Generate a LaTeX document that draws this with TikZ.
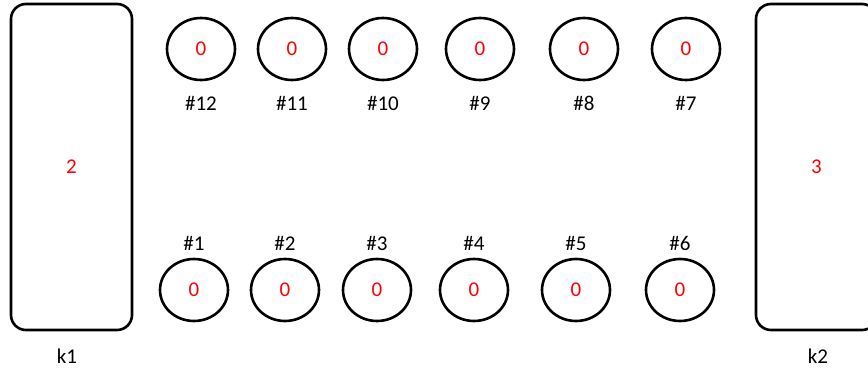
\documentclass[tikz,border=0pt]{standalone}
\usepackage{fontspec}
\setmainfont{Carlito}
\usetikzlibrary{shapes.geometric, positioning}

\begin{document}
\begin{tikzpicture}[x=0.5pt, y=-0.5pt, font=\fontsize{10.5}{12}\selectfont,
  bin/.style={draw, line width=1.3pt, rounded corners=7.5pt, minimum width=60.5pt,
    minimum height=163pt, inner sep=0pt, text=red},
  pit/.style={draw, ellipse, line width=1.3pt, minimum width=34pt,
    minimum height=31pt, inner sep=0pt, text=red},
  tag/.style={inner sep=0pt}]
\useasboundingbox (0,0) rectangle (868,368);

% the two stores
\node[bin] (k1) at (71.5,167) {2};
\node[tag] (k1lab) at (67,356) {k1};
\node[bin] (k2) at (816.5,167) {3};
\node[tag] (k2lab) at (818,356) {k2};

% top row of pits
\foreach \i/\x in {12/201,11/292,10/383,9/480,8/584,7/686} {
  \node[pit] (p\i) at (\x,49) {0};
  \node[tag] (l\i) at (\x,103) {\#\i};
}

% bottom row of pits
\foreach \i/\x in {1/194,2/285,3/377,4/474,5/576,6/680} {
  \node[pit] (p\i) at (\x,290) {0};
  \node[tag] (l\i) at (\x,243.5) {\#\i};
}
\end{tikzpicture}
\end{document}
